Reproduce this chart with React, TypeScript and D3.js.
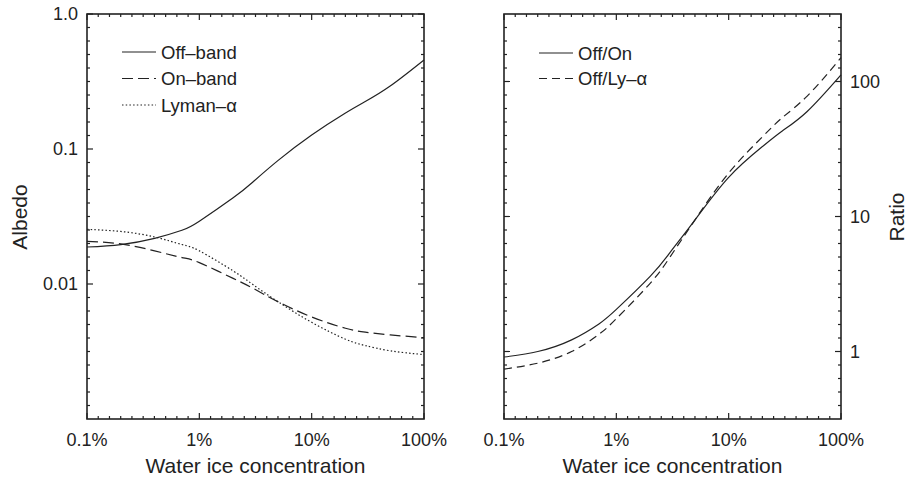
import React from "react";
import * as d3 from "d3";

const concentration = [0.1, 0.2, 0.4, 0.7, 1, 2, 3, 5, 10, 20, 30, 50, 100];
const offBand = [0.0188, 0.0196, 0.0218, 0.025, 0.0292, 0.0435, 0.057, 0.082, 0.127, 0.185, 0.225, 0.293, 0.457];
const onBand = [0.0207, 0.0198, 0.0176, 0.0157, 0.0144, 0.011, 0.0093, 0.0074, 0.0057, 0.0047, 0.0044, 0.0042, 0.004];
const lymanAlpha = [0.0254, 0.0245, 0.0223, 0.0196, 0.0176, 0.0125, 0.0099, 0.0074, 0.0052, 0.0039, 0.0035, 0.0032, 0.003];
const offOn = [0.91, 1.0, 1.22, 1.6, 2.05, 3.6, 5.4, 9.4, 19.5, 33, 43, 60, 112];
const offLy = [0.74, 0.82, 1.0, 1.34, 1.75, 3.2, 5.0, 9.4, 21, 39, 54, 78, 150];

const xTicks = [0.1, 1, 10, 100];
const xTickLabels = ["0.1%", "1%", "10%", "100%"];
const albedoTicks = [1, 0.1, 0.01];
const albedoTickLabels = ["1.0", "0.1", "0.01"];
const ratioTicks = [1, 10, 100];
const ratioTickLabels = ["1", "10", "100"];

const FONT = "'Liberation Sans', Arial, Helvetica, sans-serif";
const INK = "#222";
const TOP = 14;
const BOTTOM = 419;

type Series = { name: string; values: number[]; dash: string };

function Panel({
  left,
  right,
  yDomain,
  yTicks,
  yTickLabels,
  labelSide,
  series,
  legendX,
  legendY,
  legendGap,
}: {
  left: number;
  right: number;
  yDomain: [number, number];
  yTicks: number[];
  yTickLabels: string[];
  labelSide: "left" | "right";
  series: Series[];
  legendX: number;
  legendY: number;
  legendGap: number;
}) {
  const x = d3.scaleLog().domain([0.1, 100]).range([left, right]);
  const y = d3.scaleLog().domain(yDomain).range([BOTTOM, TOP]);
  const line = d3
    .line<[number, number]>()
    .x((d) => x(d[0]))
    .y((d) => y(d[1]))
    .curve(d3.curveNatural);

  const xMinor: number[] = [];
  for (let d = -1; d < 2; d++) for (let k = 1; k < 10; k++) xMinor.push(Math.pow(10, d + k / 10));
  const yMinor: number[] = [];
  const lo = Math.floor(Math.log10(yDomain[0]));
  const hi = Math.ceil(Math.log10(yDomain[1]));
  for (let d = lo; d < hi; d++)
    for (let k = 0; k < 10; k++) {
      const lv = d + k / 10;
      if (
        lv > Math.log10(yDomain[0]) + 1e-6 &&
        lv < Math.log10(yDomain[1]) - 1e-6 &&
        !yTicks.some((t) => Math.abs(Math.log10(t) - lv) < 1e-6)
      )
        yMinor.push(Math.pow(10, lv));
    }

  const major = 6;
  const minor = 3;

  return (
    <g>
      {series.map((s) => (
        <path
          key={s.name}
          d={line(concentration.map((c, i) => [c, s.values[i]]) as [number, number][]) || ""}
          fill="none"
          stroke={INK}
          strokeWidth={1.2}
          strokeDasharray={s.dash}
        />
      ))}
      {xMinor.map((v, i) => (
        <g key={"xm" + i}>
          <line x1={x(v)} x2={x(v)} y1={BOTTOM} y2={BOTTOM - minor} stroke={INK} strokeWidth={1.2} />
          <line x1={x(v)} x2={x(v)} y1={TOP} y2={TOP + minor} stroke={INK} strokeWidth={1.2} />
        </g>
      ))}
      {xTicks.map((v, i) => (
        <g key={"xM" + i}>
          <line x1={x(v)} x2={x(v)} y1={BOTTOM} y2={BOTTOM - major} stroke={INK} strokeWidth={1.2} />
          <line x1={x(v)} x2={x(v)} y1={TOP} y2={TOP + major} stroke={INK} strokeWidth={1.2} />
          <text x={x(v)} y={446} textAnchor="middle" fontSize={18} fontFamily={FONT} fill={INK}>
            {xTickLabels[i]}
          </text>
        </g>
      ))}
      {yMinor.map((v, i) => (
        <g key={"ym" + i}>
          <line x1={left} x2={left + minor} y1={y(v)} y2={y(v)} stroke={INK} strokeWidth={1.2} />
          <line x1={right} x2={right - minor} y1={y(v)} y2={y(v)} stroke={INK} strokeWidth={1.2} />
        </g>
      ))}
      {yTicks.map((v, i) => (
        <g key={"yM" + i}>
          <line x1={left} x2={left + major} y1={y(v)} y2={y(v)} stroke={INK} strokeWidth={1.2} />
          <line x1={right} x2={right - major} y1={y(v)} y2={y(v)} stroke={INK} strokeWidth={1.2} />
          <text
            x={labelSide === "left" ? left - 9 : right + 9}
            y={y(v)}
            dy="0.35em"
            textAnchor={labelSide === "left" ? "end" : "start"}
            fontSize={18}
            fontFamily={FONT}
            fill={INK}
          >
            {yTickLabels[i]}
          </text>
        </g>
      ))}
      <rect x={left} y={TOP} width={right - left} height={BOTTOM - TOP} fill="none" stroke={INK} strokeWidth={1.6} />
      <text x={(left + right) / 2} y={473} textAnchor="middle" fontSize={21} fontFamily={FONT} fill={INK}>
        Water ice concentration
      </text>
      {series.map((s, i) => (
        <g key={"lg" + i}>
          <line
            x1={legendX}
            x2={legendX + 34}
            y1={legendY + i * legendGap}
            y2={legendY + i * legendGap}
            stroke={INK}
            strokeWidth={1.2}
            strokeDasharray={s.dash}
          />
          <text x={legendX + 39} y={legendY + i * legendGap} dy="0.36em" fontSize={18.5} fontFamily={FONT} fill={INK}>
            {s.name}
          </text>
        </g>
      ))}
    </g>
  );
}

export default function App() {
  const leftSeries: Series[] = [
    { name: "Off\u2013band", values: offBand, dash: "" },
    { name: "On\u2013band", values: onBand, dash: "11,5" },
    { name: "Lyman\u2013\u03b1", values: lymanAlpha, dash: "1.5,2.2" },
  ];
  const rightSeries: Series[] = [
    { name: "Off/On", values: offOn, dash: "" },
    { name: "Off/Ly\u2013\u03b1", values: offLy, dash: "8,5" },
  ];
  return (
    <svg width={909} height={490} style={{ position: "absolute", left: 0, top: 0, background: "#fff" }}>
      <rect width={909} height={490} fill="#fff" />
      <Panel
        left={87}
        right={424}
        yDomain={[0.001, 1]}
        yTicks={albedoTicks}
        yTickLabels={albedoTickLabels}
        labelSide="left"
        series={leftSeries}
        legendX={122}
        legendY={52}
        legendGap={26.5}
      />
      <Panel
        left={504}
        right={841}
        yDomain={[Math.pow(10, -0.5), Math.pow(10, 2.5)]}
        yTicks={ratioTicks}
        yTickLabels={ratioTickLabels}
        labelSide="right"
        series={rightSeries}
        legendX={539}
        legendY={53}
        legendGap={25.5}
      />
      <text transform="translate(27,217) rotate(-90)" textAnchor="middle" fontSize={21} fontFamily={FONT} fill={INK}>
        Albedo
      </text>
      <text transform="translate(904,217) rotate(-90)" textAnchor="middle" fontSize={21} fontFamily={FONT} fill={INK}>
        Ratio
      </text>
    </svg>
  );
}
